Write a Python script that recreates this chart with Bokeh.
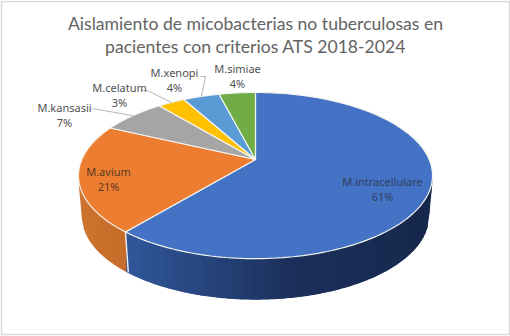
import numpy as np
from bokeh.plotting import figure
from bokeh.models import Range1d
from bokeh.embed import file_html
from bokeh.resources import INLINE
from bokeh.core.properties import value

species = ["M.intracellulare", "M.avium", "M.kansasii", "M.celatum", "M.xenopi", "M.simiae"]
percent = [61, 21, 7, 3, 4, 4]
colors = ["#4472C4", "#ED7D31", "#A5A5A5", "#FFC000", "#5B9BD5", "#70AD47"]
title_lines = ["Aislamiento de micobacterias no tuberculosas en",
               "pacientes con criterios ATS 2018-2024"]

# geometry of the tilted disc, in the reference's pixel coordinates
CX, CY, R, A, E = 255.0, 159.0, 173.7, 80.0, 0.193
WALL, WALL_SX = 40.5, 0.978
label_xy = [(382, 181), (108, 171), (64, 107), (119, 87), (174, 72), (237, 68)]

def top(frac):
    t = np.pi / 2 - 2 * np.pi * np.asarray(frac)
    d = 1 + E * np.sin(t)
    return CX + R * np.cos(t) / d, CY - A * np.sin(t) / d

def lower(frac):
    x, y = top(frac)
    return CX + (x - CX) * WALL_SX, y + WALL

def mix(c1, c2, u):
    a = [int(c1[i:i + 2], 16) for i in (1, 3, 5)]
    b = [int(c2[i:i + 2], 16) for i in (1, 3, 5)]
    return "#%02x%02x%02x" % tuple(int(round(p + (q - p) * u)) for p, q in zip(a, b))

p = figure(width=510, height=336, output_backend="svg", toolbar_location=None,
           x_range=Range1d(0, 510), y_range=Range1d(336, 0), min_border=0,
           outline_line_color=None, background_fill_color="white", border_fill_color="white")
p.axis.visible = False
p.grid.visible = False

# chart frame
p.rect([255], [167.5], width=508, height=333, fill_color=None, line_color="#d9d9d9", line_width=1.5)

edges = np.cumsum([0] + percent) / sum(percent)
seam = edges[1]

# side wall, shaded in vertical columns (front half of the disc)
front = np.linspace(np.arcsin(E) / (2 * np.pi) + 0.25, 0.75 - np.arcsin(E) / (2 * np.pi), 400)
tx, ty = top(front)
lx, ly = lower(front)
o = np.argsort(tx)
tx, ty = tx[o], ty[o]
o = np.argsort(lx)
lx, ly = lx[o], ly[o]
lx = np.r_[tx[0], lx, tx[-1]]
ly = np.r_[ty[0], ly, ty[-1]]
seam_x = (top(np.array([seam]))[0][0] + lower(np.array([seam]))[0][0]) / 2

def shade(x):
    if x < seam_x:
        return mix("#cd7430", "#c66c2a", (x - tx[0]) / (seam_x - tx[0]))
    u = (x - seam_x) / (tx[-1] - seam_x)
    return mix("#30579a", "#1b2f5a", u / 0.55) if u < 0.55 else mix("#1b2f5a", "#15274b", (u - 0.55) / 0.45)

cols = np.r_[np.arange(tx[0], seam_x, 2.0), np.arange(seam_x, tx[-1], 2.0), tx[-1]]
xs, ys, cs = [], [], []
for a, b in zip(cols[:-1], cols[1:]):
    g = np.array([a, b])
    xs.append([a, b, b, a])
    ys.append(list(np.interp(g, tx, ty)) + list(np.interp(g, lx, ly))[::-1])
    cs.append(shade((a + b) / 2))
p.patches(xs, ys, fill_color=cs, line_color=cs, line_width=1.1)

xt, yt = top(np.array([seam]))
xb, yb = lower(np.array([seam]))
p.line([xt[0], xb[0]], [yt[0], yb[0]], line_color="#f2efe9", line_width=1.4)

# top faces
for i in range(len(percent)):
    fr = np.linspace(edges[i], edges[i + 1], 160)
    x, y = top(fr)
    p.patch(np.r_[CX, x], np.r_[CY, y], fill_color=colors[i], line_color="#f4f4f0", line_width=1.2)

# leader lines
for i, elbow in ((2, (92, 108)), (3, (147, 90)), (4, (205, 76))):
    mx, my = top(np.array([(edges[i] + edges[i + 1]) / 2]))
    xs = [elbow[0] - (0 if i == 2 else 5), elbow[0], mx[0]]
    ys = [elbow[1], elbow[1], my[0]]
    p.line(xs, ys, line_color="#b5b5b5", line_width=1)

# labels
font = value("Noto Sans")
for i, (x0, y0) in enumerate(label_xy):
    dark = "#505050" if i > 1 else "#333f5f" if i == 0 else "#5a3a20"
    p.text([x0], [y0], text=[species[i]], text_align="center", text_baseline="middle",
           text_font=font, text_font_size="11px", text_color=dark)
    p.text([x0], [y0 + 14.5], text=["%d%%" % percent[i]], text_align="center", text_baseline="middle",
           text_font=font, text_font_size="11px", text_color=dark)

# title
for k, line in enumerate(title_lines):
    p.text([255], [22.5 + 23 * k], text=[line], text_align="center", text_baseline="middle",
           text_font=value("Lato"), text_font_size="17.6px", text_color="#636363")

open("out.html", "w").write(file_html(p, INLINE))
